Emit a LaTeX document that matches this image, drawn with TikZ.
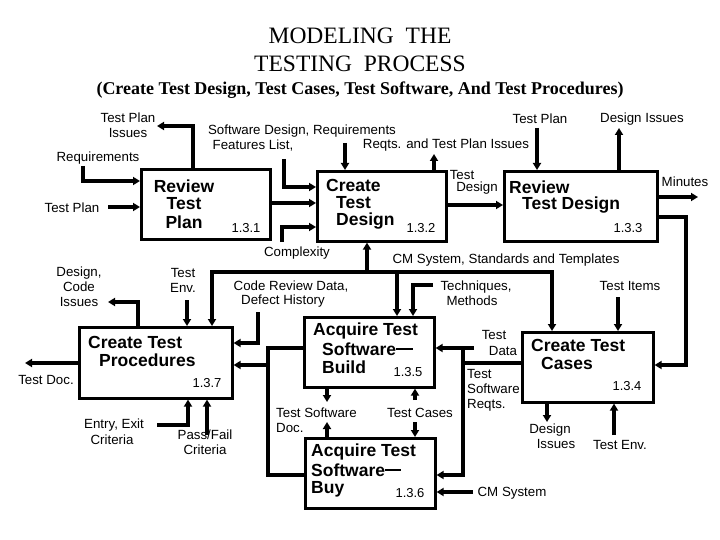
\documentclass[tikz,border=0pt]{standalone}
\usepackage{fontspec}
\setmainfont{Liberation Serif}
\setsansfont{Liberation Sans}
\usetikzlibrary{arrows.meta}
\tikzset{
  box/.style={draw, line width=2.6pt, rectangle, anchor=north west, inner sep=0pt},
  lab/.style={font=\sffamily\fontsize{13.3}{15}\selectfont, inner sep=0pt, align=center},
  btxt/.style={font=\sffamily\bfseries\fontsize{17.5}{18}\selectfont, inner sep=0pt, anchor=west},
  num/.style={font=\sffamily\fontsize{13}{15}\selectfont, inner sep=0pt},
  arr/.style={line width=3.4pt, -{Triangle[length=7pt,width=8pt]}},
  ln/.style={line width=3.4pt},
  strike/.style={line width=2pt},
}
\begin{document}
\begin{tikzpicture}[x=1pt,y=-1pt]
\useasboundingbox (0,0) rectangle (720,540);
% title
\node[font=\fontsize{23.5}{28}\selectfont, align=center] (title) at (360,50) {MODELING\ \ THE\\TESTING\ \ PROCESS};
\node[font=\bfseries\fontsize{18}{20}\selectfont] (sub) at (360,90) {(Create Test Design, Test Cases, Test Software, And Test Procedures)};
% boxes
\node[box, minimum width=129pt, minimum height=70pt] (rtp) at (140,168) {};
\node[box, minimum width=129pt, minimum height=70pt] (ctd) at (316,170) {};
\node[box, minimum width=153pt, minimum height=70pt] (rtd) at (503,170) {};
\node[box, minimum width=153pt, minimum height=71pt] (ctp) at (78,326) {};
\node[box, minimum width=130pt, minimum height=70pt] (build) at (303,316) {};
\node[box, minimum width=131pt, minimum height=70pt] (ctc) at (521,331) {};
\node[box, minimum width=130pt, minimum height=70pt] (buy) at (304,437) {};
% box texts
\node[btxt, anchor=center] (rtpa) at (184,186) {Review};
\node[btxt, anchor=center] (rtpb) at (184,204) {Test};
\node[btxt, anchor=center] (rtpc) at (184,222) {Plan};
\node[num] (rtpn) at (246,228) {1.3.1};
\node[btxt] (ctda) at (326,185) {Create};
\node[btxt] (ctdb) at (336,203) {Test};
\node[btxt] (ctdc) at (336,221) {Design};
\node[num] (ctdn) at (421,228) {1.3.2};
\node[btxt] (rtda) at (509,187) {Review};
\node[btxt] (rtdb) at (522,205) {Test Design};
\node[num] (rtdn) at (628,228) {1.3.3};
\node[btxt] (ctpa) at (88,342) {Create Test};
\node[btxt] (ctpb) at (99,360) {Procedures};
\node[num] (ctpn) at (207,383) {1.3.7};
\node[btxt] (bda) at (313,331) {Acquire Test};
\node[btxt] (bdb) at (322,349) {Software};
\node[btxt] (bdc) at (322,367) {Build};
\node[num] (bdn) at (408,372) {1.3.5};
\node[btxt] (ctca) at (531,345) {Create Test};
\node[btxt] (ctcb) at (541,363) {Cases};
\node[num] (ctcn) at (627,386) {1.3.4};
\node[btxt] (bya) at (311,452) {Acquire Test};
\node[btxt] (byb) at (311,470) {Software};
\node[btxt] (byc) at (311,489) {Buy};
\node[num] (byn) at (410,493) {1.3.6};
\draw[strike] (bdb.east) -- ++(17,0);
\draw[strike] (byb.east) -- ++(16,0);
% labels
\node[lab] (ltpi) at (128,125) {Test Plan\\Issues};
\node[lab] (lreq) at (98,158) {Requirements};
\node[lab] (ltp) at (72,208) {Test Plan};
\node[lab] (lsdr) at (302,131) {Software Design, Requirements};
\node[lab] (lfl) at (253,146) {Features List,};
\node[lab] (lrtpi) at (446,145) {Reqts. and Test Plan Issues};
\node[lab] (lcx) at (297,253) {Complexity};
\node[lab] (lcm) at (506,260) {CM System, Standards and Templates};
\node[lab] (ltd1) at (462,175) {Test};
\node[lab] (ltd2) at (477,188) {Design};
\node[lab] (ltp2) at (540,119) {Test Plan};
\node[lab] (ldi) at (642,119) {Design Issues};
\node[lab] (lmin) at (685,182) {Minutes};
\node[lab] (ldci) at (79,287) {Design,\\Code\\Issues};
\node[lab] (lte) at (183,280) {Test\\Env.};
\node[lab] (lcr1) at (291,287) {Code Review Data,};
\node[lab] (lcr2) at (283,301) {Defect History};
\node[lab] (ltm1) at (476,287) {Techniques,};
\node[lab] (ltm2) at (472,301) {Methods};
\node[lab] (lti) at (630,286) {Test Items};
\node[lab] (ltda1) at (494,335) {Test};
\node[lab] (ltda2) at (503,351) {Data};
\node[lab, anchor=west, align=left] (ltsr) at (467,390) {Test\\Software\\Reqts.};
\node[lab] (ldi2a) at (550,430) {Design};
\node[lab] (ldi2b) at (556,444) {Issues};
\node[lab] (lte2) at (620,445) {Test Env.};
\node[lab] (lcms) at (512,493) {CM System};
\node[lab, anchor=west, align=left] (ltsd) at (276,420) {Test Software\\Doc.};
\node[lab] (ltc) at (420,413) {Test Cases};
\node[lab] (ltdoc) at (46,380) {Test Doc.};
\node[lab] (lee1) at (114,425) {Entry, Exit};
\node[lab] (lee2) at (112,440) {Criteria};
\node[lab] (lpf) at (205,442) {Pass/Fail\\Criteria};
% connectors: review test plan
\draw[arr] (193,0 |- rtp.north) |- (157,126);
\draw[arr] (83,166) |- (rtp.west |- 0,181);
\draw[arr] (108,207) -- (rtp.west |- 0,207);
\draw[arr] (rtp.east |- 0,203) -- (ctd.west |- 0,203);
% create test design
\draw[arr] (284,159) |- (ctd.west |- 0,187);
\draw[arr] (345,143) -- (345,0 |- ctd.north);
\draw[arr] (434,0 |- ctd.north) -- (434,154);
\draw[arr] (282,242) |- (ctd.west |- 0,227);
% bus
\draw[arr] (552,272) -- (212,272) -- (212,0 |- ctp.north);
\draw[arr] (300,272) -| (552,0 |- ctc.north);
\draw[arr] (367,272) -- (367,0 |- ctd.south);
\draw[arr] (397,272) -- (397,0 |- build.north);
% review test design
\draw[arr] (ctd.east |- 0,205) -- (rtd.west |- 0,205);
\draw[arr] (537,128) -- (537,0 |- rtd.north);
\draw[arr] (619,0 |- rtd.north) -- (619,128);
\draw[arr] (rtd.east |- 0,197) -- (698,197);
\draw[arr] (rtd.east |- 0,217) -- (686,217) -- (686,365) -- (ctc.east |- 0,365);
% create test cases
\draw[arr] (618,297) -- (618,0 |- ctc.north);
\draw[arr] (547,0 |- ctc.south) -- (547,422);
\draw[arr] (614,435) -- (614,0 |- ctc.south);
\draw[ln] (ctc.west |- 0,363) -- (463,363);
\draw[arr] (474,348) -- (build.east |- 0,348);
\draw[arr] (463,348) -- (463,475) -- (buy.east |- 0,475);
\draw[arr] (473,492) -- (buy.east |- 0,492);
% build / buy
\draw[arr] (433,285) -| (413,0 |- build.north);
\draw[arr] (327,0 |- build.south) -- (327,402);
\draw[arr] (327,0 |- buy.north) -- (327,422);
\draw[arr] (415,400) -- (415,0 |- build.south);
\draw[arr] (415,422) -- (415,0 |- buy.north);
\draw[ln] (build.west |- 0,348) -| (268,475) -- (buy.west |- 0,475);
\draw[arr] (268,365) -- (ctp.east |- 0,365);
\draw[arr] (258,312) |- (ctp.east |- 0,343);
% create test procedures
\draw[arr] (138,0 |- ctp.north) |- (108,302);
\draw[arr] (187,300) -- (187,0 |- ctp.north);
\draw[arr] (ctp.west |- 0,363) -- (25,363);
\draw[arr] (157,425) -| (188,0 |- ctp.south);
\draw[arr] (207,435) -- (207,0 |- ctp.south);
\end{tikzpicture}
\end{document}
